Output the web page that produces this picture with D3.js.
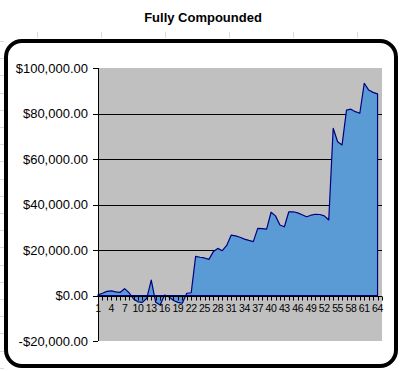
<!DOCTYPE html>
<html>
<head>
<meta charset="utf-8">
<script src="https://cdn.jsdelivr.net/npm/d3@7/dist/d3.min.js"></script>
<style>
  html, body { margin: 0; padding: 0; background: #fff; }
  svg { display: block; }
  text { font-family: "Liberation Sans", Arial, sans-serif; fill: #000; }
</style>
</head>
<body>
<svg id="chart" width="402" height="371"></svg>
<script>
// ---- data ----
const title = "Fully Compounded";
const categories = d3.range(1, 66);            // 1 … 65
const values = [
  300, 1000, 1800, 2000, 1600, 1400, 3000, 1200, -1500, -2800,
  -3000, -1200, 6800, -3000, -4200, 200, -600, -2200, -3000, -3400,
  1000, 1200, 17200, 16800, 16500, 15900, 19300, 20700, 19700, 22000,
  26500, 26200, 25600, 24800, 24200, 23700, 29500, 29400, 29200, 36600,
  35000, 31000, 30200, 36800, 36800, 36300, 35500, 34600, 35300, 35700,
  35600, 35000, 33200, 73500, 67600, 66200, 81500, 81900, 80800, 80100,
  93300, 90300, 89300, 88600
];
const yTicks = [-20000, 0, 20000, 40000, 60000, 80000, 100000];
const xLabelEvery = 3;

const svg = d3.select("#chart");

// faint spreadsheet grid behind the chart object
const bg = svg.append("g").attr("stroke", "#dcdcdc").attr("stroke-width", 1);
[37, 101, 165, 229, 293, 357].forEach(x => {
  bg.append("line").attr("x1", x + 0.5).attr("x2", x + 0.5).attr("y1", 32).attr("y2", 38);
});
for (let yy = 41; yy < 371; yy += 17.2) {
  bg.append("line").attr("x1", 0).attr("x2", 4).attr("y1", Math.round(yy) + 0.5).attr("y2", Math.round(yy) + 0.5);
}

// title
svg.append("text")
  .attr("x", 203).attr("y", 22)
  .attr("text-anchor", "middle")
  .style("font-size", "13px").style("font-weight", "bold")
  .text(title);

// chart border
svg.append("rect")
  .attr("x", 6).attr("y", 41).attr("width", 390).attr("height", 325)
  .attr("rx", 16).attr("ry", 16)
  .attr("fill", "#fff").attr("stroke", "#000").attr("stroke-width", 4);

// plot area
const L = 98, R = 382, T = 68, B = 341;
const x = d3.scalePoint().domain(categories).range([L, R]);
const y = d3.scaleLinear().domain([-20000, 100000]).range([B, T]);

svg.append("rect")
  .attr("x", L).attr("y", T).attr("width", R - L).attr("height", B - T)
  .attr("fill", "#c0c0c0");

// gridlines
svg.append("g").selectAll("line")
  .data(yTicks.filter(v => v > 0 && v < 100000))
  .join("line")
  .attr("x1", L).attr("x2", R)
  .attr("y1", d => Math.round(y(d)) + 0.5).attr("y2", d => Math.round(y(d)) + 0.5)
  .attr("stroke", "#000").attr("stroke-width", 1);

// area
const pts = categories.map((c, i) => ({ c, v: i < values.length ? values[i] : null }));
const area = d3.area()
  .defined(d => d.v != null)
  .x(d => x(d.c))
  .y0(y(0))
  .y1(d => y(d.v));
svg.append("path")
  .datum(pts)
  .attr("d", area)
  .attr("fill", "#5b9bd5")
  .attr("stroke", "#000080")
  .attr("stroke-width", 1.2)
  .attr("stroke-linejoin", "round");

// x axis (at zero)
const y0 = Math.round(y(0)) + 0.5;
const xAxisG = svg.append("g").attr("transform", `translate(0,${y0})`);
xAxisG.append("line").attr("x1", L).attr("x2", R).attr("y1", 0).attr("y2", 0)
  .attr("stroke", "#000").attr("stroke-width", 1);
xAxisG.selectAll("line.tick")
  .data(categories)
  .join("line").attr("class", "tick")
  .attr("x1", d => Math.round(x(d)) + 0.5).attr("x2", d => Math.round(x(d)) + 0.5)
  .attr("y1", 0).attr("y2", 4)
  .attr("stroke", "#000").attr("stroke-width", 1);
xAxisG.selectAll("text")
  .data(categories.filter((d, i) => i % xLabelEvery === 0))
  .join("text")
  .attr("x", d => x(d)).attr("y", 15.5)
  .attr("text-anchor", "middle")
  .style("font-size", "10.5px").style("letter-spacing", "-0.4px")
  .text(d => d);

// y axis
const yAxisG = svg.append("g");
yAxisG.append("line").attr("x1", L + 0.5).attr("x2", L + 0.5).attr("y1", T).attr("y2", B)
  .attr("stroke", "#000").attr("stroke-width", 1);
const fmt = v => (v < 0 ? "-$" : "$") + d3.format(",.2f")(Math.abs(v));
yAxisG.selectAll("line.tick")
  .data(yTicks)
  .join("line").attr("class", "tick")
  .attr("x1", L - 5).attr("x2", L)
  .attr("y1", d => Math.round(y(d)) + 0.5).attr("y2", d => Math.round(y(d)) + 0.5)
  .attr("stroke", "#000").attr("stroke-width", 1);
yAxisG.selectAll("text")
  .data(yTicks)
  .join("text")
  .attr("x", 88).attr("y", d => y(d))
  .attr("dy", "0.35em")
  .attr("text-anchor", "end")
  .style("font-size", "13px")
  .text(fmt);
</script>
</body>
</html>
